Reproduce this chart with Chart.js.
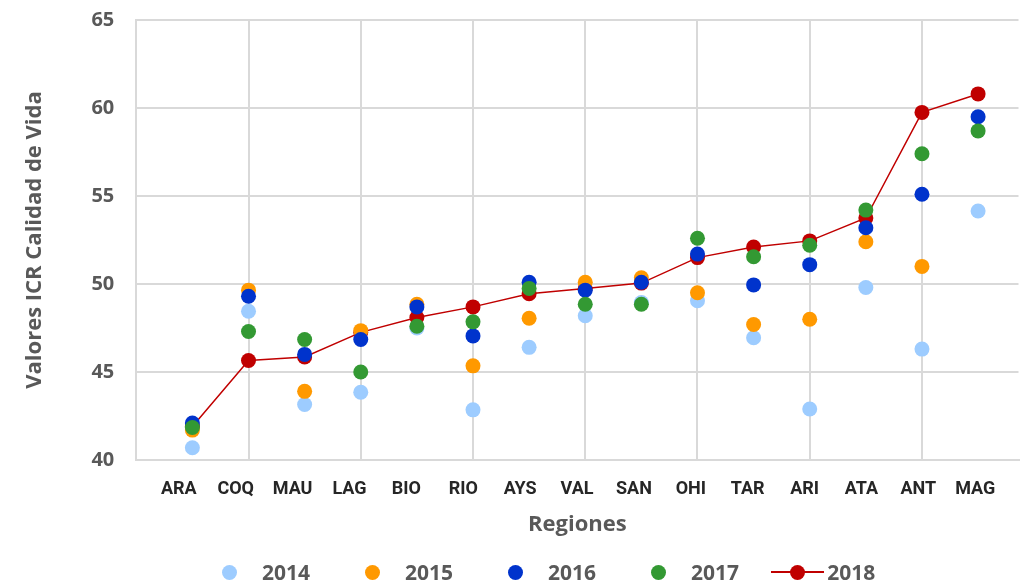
<!DOCTYPE html>
<html>
<head>
<meta charset="utf-8">
<title>ICR Calidad de Vida por región</title>
<script src="https://cdn.jsdelivr.net/npm/chart.js@4/dist/chart.umd.min.js"></script>
<style>
  html, body { margin: 0; padding: 0; background: #fff; overflow: hidden; }
  #wrap { position: relative; width: 1026px; height: 587px; }
  #legend {
    position: absolute; left: 203px; top: 558px; display: flex; align-items: center;
    font-family: 'Open Sans', sans-serif; font-weight: bold; font-size: 21px; color: #595959;
  }
  .item { display: flex; align-items: center; margin-right: 36px; }
  .mark { position: relative; width: 53px; height: 15px; margin-right: 6px; }
  .mark .dot { position: absolute; left: 19px; top: 0; width: 15px; height: 15px; border-radius: 50%; }
  .mark .ln { position: absolute; left: 0; right: 0; top: 6px; height: 2px; }
  .item.linea .mark { margin-left: -4px; margin-right: 3px; }
</style>
</head>
<body>
<div id="wrap">
  <canvas id="icr"></canvas>
  <div id="legend"></div>
</div>
<script>
// regiones ordenadas por valor 2018
var regiones = ['ARA', 'COQ', 'MAU', 'LAG', 'BIO', 'RIO', 'AYS', 'VAL', 'SAN', 'OHI', 'TAR', 'ARI', 'ATA', 'ANT', 'MAG'];
var anios = ['2014', '2015', '2016', '2017', '2018'];
var colores = ['#9DCCFF', '#FF9900', '#0033CC', '#339933', '#C00000'];

var icr2014 = [40.7, 48.45, 43.15, 43.85, 47.5, 42.85, 46.4, 48.2, 48.95, 49.05, 46.95, 42.9, 49.8, 46.3, 54.15];
var icr2015 = [41.7, 49.65, 43.9, 47.35, 48.85, 45.35, 48.05, 50.1, 50.35, 49.5, 47.7, 48.0, 52.4, 51.0, null];
var icr2016 = [42.1, 49.3, 46.0, 46.85, 48.7, 47.05, 50.1, 49.65, 50.1, 51.7, 49.95, 51.1, 53.2, 55.1, 59.5];
var icr2017 = [41.85, 47.3, 46.85, 45.0, 47.6, 47.85, 49.75, 48.85, 48.85, 52.6, 51.55, 52.2, 54.2, 57.4, 58.7];
var icr2018 = [41.9, 45.65, 45.85, 47.25, 48.1, 48.7, 49.45, 49.75, 50.05, 51.5, 52.1, 52.45, 53.75, 59.75, 60.8];

var yTicks = [40, 45, 50, 55, 60, 65];

var series = [icr2014, icr2015, icr2016, icr2017, icr2018];
var gris = '#595959';
var grid = '#D9D9D9';
var fuente = "'Open Sans', sans-serif";
var fuenteCat = "Roboto, 'Open Sans', sans-serif";

function puntos(arr) {
    return arr.map(function (v, i) { return {x: i + 1, y: v}; });
}

// no side padding from the hidden/edge labels, plot runs to the border
function sinPaddingX(axis) {
    axis.paddingLeft = 0;
    axis.paddingRight = 0;
}

// 2018 goes under the rest, 2017 on top
var orden = [4, 3, 2, 1, 5];
var datasets = series.map(function (s, k) {
    var esLinea = k === 4;
    return {
        label: anios[k],
        data: puntos(s),
        order: orden[k],
        showLine: esLinea,
        borderColor: colores[k],
        borderWidth: esLinea ? 1.5 : 0,
        backgroundColor: colores[k],
        pointBackgroundColor: colores[k],
        pointBorderWidth: 0,
        pointRadius: 7.5,
        pointHoverRadius: 7.5
    };
});

var ctx = document.getElementById('icr');
var chart = new Chart(ctx, {
    type: 'scatter',
    data: {datasets: datasets},
    options: {
        responsive: true,
        maintainAspectRatio: false,
        animation: false,
        layout: {padding: {top: 20, left: 0, right: 0, bottom: 49}},
        plugins: {
            legend: {display: false},
            tooltip: {enabled: false}
        },
        scales: {
            x: {
                type: 'linear',
                min: 0,
                max: 15.72,
                afterFit: sinPaddingX,
                ticks: {display: false, stepSize: 2, includeBounds: false},
                grid: {color: grid, lineWidth: 2, drawTicks: false},
                border: {color: grid, width: 2}
            },
            xl: {
                type: 'linear',
                position: 'bottom',
                weight: 1,
                min: 0.252,
                max: 15.76,
                afterFit: sinPaddingX,
                grid: {display: false, drawTicks: false},
                border: {display: false},
                ticks: {
                    stepSize: 1,
                    includeBounds: false,
                    autoSkip: false,
                    maxRotation: 0,
                    padding: 19,
                    color: '#262626',
                    font: {family: fuenteCat, size: 18, weight: 'bold'},
                    callback: function (v) { return regiones[v - 1] || ''; }
                },
                title: {
                    display: true,
                    text: 'Regiones',
                    color: gris,
                    font: {family: fuente, size: 22, weight: 'bold'},
                    padding: {top: -8, bottom: 0}
                }
            },
            y: {
                min: yTicks[0],
                max: yTicks[yTicks.length - 1],
                afterBuildTicks: function (axis) {
                    axis.ticks = yTicks.map(function (v) { return {value: v}; });
                },
                afterFit: function (axis) {
                    axis.paddingTop = 0;
                    axis.paddingBottom = 0;
                },
                ticks: {
                    padding: 22,
                    color: gris,
                    font: {family: fuente, size: 20, weight: 'bold'}
                },
                grid: {color: grid, lineWidth: 2, drawTicks: false},
                border: {color: grid, width: 2},
                title: {
                    display: true,
                    text: 'Valores ICR Calidad de Vida',
                    color: gris,
                    font: {family: fuente, size: 22, weight: 'bold'},
                    padding: {top: 22, bottom: 21}
                }
            }
        }
    }
});

// leyenda en html, mismo orden que el original
var leg = document.getElementById('legend');
anios.forEach(function (a, k) {
    var item = document.createElement('div');
    item.className = k === 4 ? 'item linea' : 'item';
    var mark = document.createElement('span');
    mark.className = 'mark';
    if (k === 4) {
        var ln = document.createElement('span');
        ln.className = 'ln';
        ln.style.background = colores[k];
        mark.appendChild(ln);
    }
    var dot = document.createElement('span');
    dot.className = 'dot';
    dot.style.background = colores[k];
    mark.appendChild(dot);
    var txt = document.createElement('span');
    txt.textContent = a;
    item.appendChild(mark);
    item.appendChild(txt);
    leg.appendChild(item);
});
</script>
</body>
</html>
